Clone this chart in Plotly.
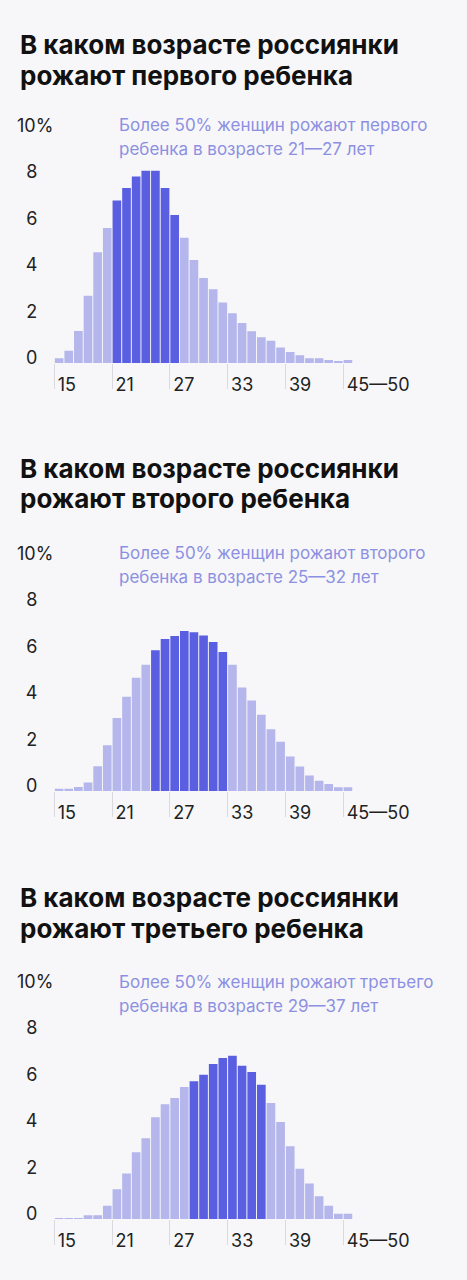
import plotly.graph_objects as go

ages = ["15", "16", "17", "18", "19", "20", "21", "22", "23", "24", "25",
        "26", "27", "28", "29", "30", "31", "32", "33", "34", "35", "36",
        "37", "38", "39", "40", "41", "42", "43", "44", "45—50"]

# доля женщин (%) по возрасту рождения ребенка
first_child = [0.2, 0.53, 1.37, 2.89, 4.75, 5.79, 6.97, 7.51, 8.0, 8.25, 8.25,
               7.51, 6.35, 5.38, 4.42, 3.65, 3.16, 2.6, 2.13, 1.72, 1.36, 1.1,
               0.96, 0.67, 0.47, 0.33, 0.2, 0.2, 0.13, 0.06, 0.13]
second_child = [0.1, 0.1, 0.17, 0.37, 1.06, 1.96, 3.13, 4.04, 4.86, 5.42, 6.04,
                6.52, 6.65, 6.87, 6.81, 6.67, 6.39, 5.97, 5.42, 4.44, 3.88, 3.27,
                2.65, 2.11, 1.48, 1.05, 0.66, 0.44, 0.3, 0.16, 0.16]
third_child = [0.04, 0.04, 0.04, 0.16, 0.16, 0.57, 1.28, 1.95, 2.87, 3.47, 4.37,
               4.93, 5.19, 5.66, 5.91, 6.19, 6.65, 6.91, 7.01, 6.58, 6.31, 5.76,
               4.98, 4.16, 3.12, 2.16, 1.52, 0.98, 0.57, 0.22, 0.22]

# возрасты, в которых рожают более 50% женщин
highlight = [("21", "27"), ("25", "32"), ("29", "36")]

titles = [["В каком возрасте россиянки", "рожают первого ребенка"],
          ["В каком возрасте россиянки", "рожают второго ребенка"],
          ["В каком возрасте россиянки", "рожают третьего ребенка"]]
notes = [["Более 50% женщин рожают первого", "ребенка в возрасте 21—27 лет"],
         ["Более 50% женщин рожают второго", "ребенка в возрасте 25—32 лет"],
         ["Более 50% женщин рожают третьего", "ребенка в возрасте 29—37 лет"]]

x_ticks = ["15", "21", "27", "33", "39", "45—50"]
y_ticks = [0, 2, 4, 6, 8]
y_top_label = "10%"

W, H = 467, 1280
FONT = "Inter"
LIGHT = "#b4b6ec"
DARK = "#5a5ee0"
NOTE = "#8c90e2"
BG = "#f7f7f9"

baselines = [363, 791, 1219]
title_lines = [(44, 75), (468, 498), (897, 928)]
note_lines = [(125, 149), (553, 577), (982, 1006)]
px_per_unit = 23.3

fig = go.Figure()
annotations = []
series = [first_child, second_child, third_child]

for k, vals in enumerate(series):
    lo = ages.index(highlight[k][0])
    hi = ages.index(highlight[k][1])
    colors = [DARK if lo <= i <= hi else LIGHT for i in range(len(ages))]
    sfx = "" if k == 0 else str(k + 1)
    fig.add_trace(go.Bar(
        x=list(range(len(ages))), y=vals, customdata=ages,
        marker=dict(color=colors, line=dict(width=0)),
        hovertemplate="%{customdata}: %{y}%<extra></extra>",
        xaxis="x" + sfx, yaxis="y" + sfx, showlegend=False,
    ))

    base = baselines[k]
    top = base - 10 * px_per_unit
    fig.layout["yaxis" + sfx] = dict(
        domain=[1 - base / H, 1 - top / H], range=[0, 10],
        anchor="x" + sfx, automargin=False,
        showgrid=False, zeroline=False, showline=False,
        tickvals=y_ticks, ticktext=[str(v) for v in y_ticks],
        ticks="", ticklabelshift=-5, ticklabelstandoff=16,
        tickfont=dict(family=FONT, size=18, color="#222"),
        fixedrange=True,
    )
    fig.layout["xaxis" + sfx] = dict(
        domain=[54.3 / W, 352.8 / W], range=[-0.5, len(ages) - 0.5],
        anchor="y" + sfx, automargin=False,
        showgrid=False, zeroline=False, showline=False,
        tickvals=[ages.index(t) - 0.5 for t in x_ticks], ticktext=x_ticks,
        ticks="outside", ticklen=25, tickwidth=1, tickcolor="#d9d9de",
        ticklabelposition="outside right", ticklabelstandoff=5,
        ticklabelshift=3,
        tickfont=dict(family=FONT, size=18, color="#222"),
        fixedrange=True,
    )

    for line, y_px in zip(titles[k], title_lines[k]):
        annotations.append(dict(
            text="<b>" + line + "</b>", xref="paper", yref="paper",
            x=18 / W, y=1 - y_px / H, xanchor="left", yanchor="middle",
            showarrow=False,
            font=dict(family=FONT, size=26, color="#111"),
        ))
    for line, y_px in zip(notes[k], note_lines[k]):
        annotations.append(dict(
            text=line, xref="paper", yref="paper",
            x=117 / W, y=1 - y_px / H, xanchor="left", yanchor="middle",
            showarrow=False,
            font=dict(family=FONT, size=17, color=NOTE),
        ))
    annotations.append(dict(
        text=y_top_label, xref="paper", yref="y" + sfx,
        x=35 / W, y=10, yshift=5, xanchor="center", yanchor="middle",
        showarrow=False, font=dict(family=FONT, size=18, color="#222"),
    ))

fig.update_layout(
    width=W, height=H, margin=dict(l=0, r=0, t=0, b=0),
    paper_bgcolor=BG, plot_bgcolor=BG, bargap=0.1,
    annotations=annotations,
)

fig.write_html("out.html", config={"displayModeBar": False},
               post_script="document.body.style.margin='0';")
